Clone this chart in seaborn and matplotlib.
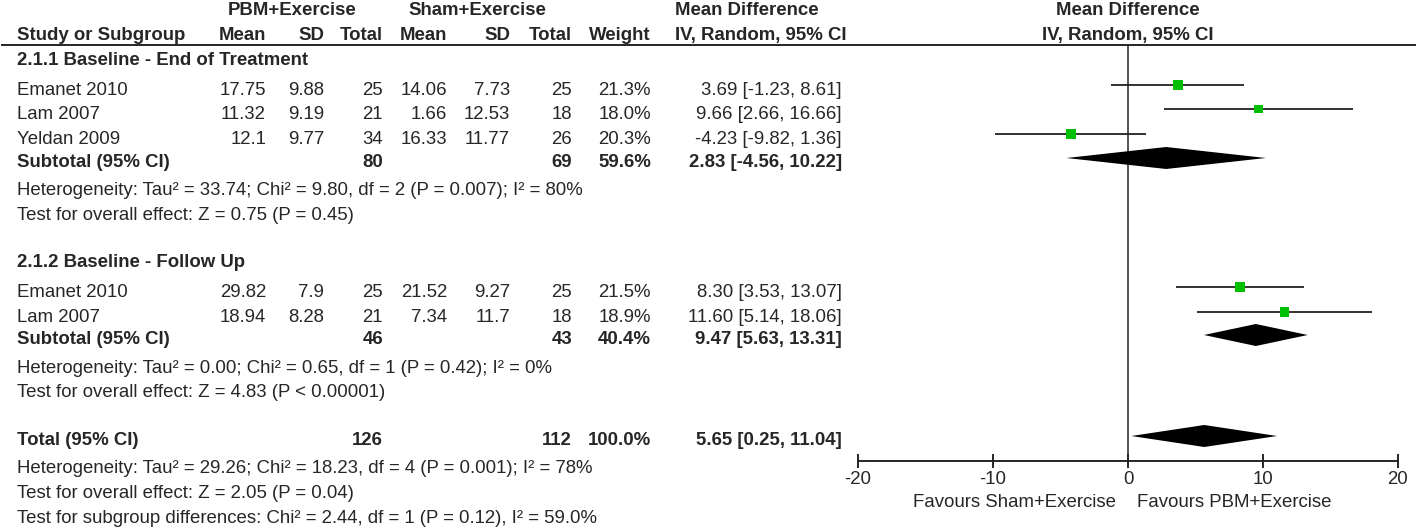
import pandas as pd
import seaborn as sns
import matplotlib
matplotlib.use("Agg")
import matplotlib.pyplot as plt

# ---- values ----
# 2.1.1 Baseline - End of Treatment
study_g1 = ["Emanet 2010", "Lam 2007", "Yeldan 2009"]
pbm_mean_g1 = [17.75, 11.32, 12.1]
pbm_sd_g1 = [9.88, 9.19, 9.77]
pbm_n_g1 = [25, 21, 34]
sham_mean_g1 = [14.06, 1.66, 16.33]
sham_sd_g1 = [7.73, 12.53, 11.77]
sham_n_g1 = [25, 18, 26]
weight_g1 = [21.3, 18.0, 20.3]
md_g1 = [3.69, 9.66, -4.23]
lo_g1 = [-1.23, 2.66, -9.82]
hi_g1 = [8.61, 16.66, 1.36]

# 2.1.2 Baseline - Follow Up
study_g2 = ["Emanet 2010", "Lam 2007"]
pbm_mean_g2 = [29.82, 18.94]
pbm_sd_g2 = [7.9, 8.28]
pbm_n_g2 = [25, 21]
sham_mean_g2 = [21.52, 7.34]
sham_sd_g2 = [9.27, 11.7]
sham_n_g2 = [25, 18]
weight_g2 = [21.5, 18.9]
md_g2 = [8.30, 11.60]
lo_g2 = [3.53, 5.14]
hi_g2 = [13.07, 18.06]

group_titles = ["2.1.1 Baseline - End of Treatment", "2.1.2 Baseline - Follow Up"]
sub_n_pbm = [80, 46]
sub_n_sham = [69, 43]
sub_weight = [59.6, 40.4]
sub_md = [2.83, 9.47]
sub_lo = [-4.56, 5.63]
sub_hi = [10.22, 13.31]
sub_het = ["Heterogeneity: Tau² = 33.74; Chi² = 9.80, df = 2 (P = 0.007); I² = 80%",
           "Heterogeneity: Tau² = 0.00; Chi² = 0.65, df = 1 (P = 0.42); I² = 0%"]
sub_test = ["Test for overall effect: Z = 0.75 (P = 0.45)",
            "Test for overall effect: Z = 4.83 (P < 0.00001)"]

tot_n_pbm, tot_n_sham, tot_weight = 126, 112, 100.0
tot_md, tot_lo, tot_hi = 5.65, 0.25, 11.04
tot_notes = ["Heterogeneity: Tau² = 29.26; Chi² = 18.23, df = 4 (P = 0.001); I² = 78%",
             "Test for overall effect: Z = 2.05 (P = 0.04)",
             "Test for subgroup differences: Chi² = 2.44, df = 1 (P = 0.12), I² = 59.0%"]

x_ticks = [-20, -10, 0, 10, 20]
favours = ["Favours Sham+Exercise", "Favours PBM+Exercise"]

# ---- layout (pixel rows/columns of the table) ----
W, H = 1418, 527
base_g = [[95, 119, 144], [297, 322]]
title_y = [65, 267]
sub_y = [167, 344]
het_y = [[195, 220], [373, 397]]
tot_y = 445
tot_notes_y = [473, 498, 523]
col_x = [266, 324, 383, 447, 510, 572, 651, 842]   # right edges
mark_off = -10
ink = "#262626"
fs = 13.4

sns.set_theme(style="white")
plt.rcParams["font.family"] = ["Liberation Sans", "DejaVu Sans"]
plt.rcParams["axes.unicode_minus"] = False

fig = plt.figure(figsize=(W / 100, H / 100), dpi=100)
tab = fig.add_axes([0, 0, 1, 1])
tab.set_xlim(0, W)
tab.set_ylim(H, 0)
tab.axis("off")


def put(x, y, s, ha="left", bold=False):
    tab.text(x, y, s, ha=ha, va="baseline", fontsize=fs, color=ink,
             fontweight="bold" if bold else "normal")


# header
put(292, 15, "PBM+Exercise", ha="center", bold=True)
put(477, 15, "Sham+Exercise", ha="center", bold=True)
put(675, 15, "Mean Difference", bold=True)
put(1128, 15, "Mean Difference", ha="center", bold=True)
put(17, 40, "Study or Subgroup", bold=True)
for x, s in zip(col_x[:7], ["Mean", "SD", "Total", "Mean", "SD", "Total", "Weight"]):
    put(x, 40, s, ha="right", bold=True)
put(675, 40, "IV, Random, 95% CI", bold=True)
put(1128, 40, "IV, Random, 95% CI", ha="center", bold=True)
tab.plot([1, 1416], [45, 45], color=ink, lw=1.4, solid_capstyle="butt")

groups = [
    (study_g1, pbm_mean_g1, pbm_sd_g1, pbm_n_g1, sham_mean_g1, sham_sd_g1, sham_n_g1,
     weight_g1, md_g1, lo_g1, hi_g1),
    (study_g2, pbm_mean_g2, pbm_sd_g2, pbm_n_g2, sham_mean_g2, sham_sd_g2, sham_n_g2,
     weight_g2, md_g2, lo_g2, hi_g2),
]

records = []
for gi, g in enumerate(groups):
    put(17, title_y[gi], group_titles[gi], bold=True)
    for i, name in enumerate(g[0]):
        y = base_g[gi][i]
        put(17, y, name)
        vals = [f"{g[1][i]:g}", f"{g[2][i]:g}", f"{g[3][i]}",
                f"{g[4][i]:g}", f"{g[5][i]:g}", f"{g[6][i]}",
                f"{g[7][i]:.1f}%", f"{g[8][i]:.2f} [{g[9][i]:.2f}, {g[10][i]:.2f}]"]
        for x, s in zip(col_x, vals):
            put(x, y, s, ha="right")
        records.append({"study": name, "md": g[8][i], "lo": g[9][i], "hi": g[10][i],
                        "weight": g[7][i], "ypos": y + mark_off})
    ys = sub_y[gi]
    put(17, ys, "Subtotal (95% CI)", bold=True)
    put(col_x[2], ys, f"{sub_n_pbm[gi]}", ha="right", bold=True)
    put(col_x[5], ys, f"{sub_n_sham[gi]}", ha="right", bold=True)
    put(col_x[6], ys, f"{sub_weight[gi]:.1f}%", ha="right", bold=True)
    put(col_x[7], ys, f"{sub_md[gi]:.2f} [{sub_lo[gi]:.2f}, {sub_hi[gi]:.2f}]",
        ha="right", bold=True)
    put(17, het_y[gi][0], sub_het[gi])
    put(17, het_y[gi][1], sub_test[gi])

put(17, tot_y, "Total (95% CI)", bold=True)
put(col_x[2], tot_y, f"{tot_n_pbm}", ha="right", bold=True)
put(col_x[5], tot_y, f"{tot_n_sham}", ha="right", bold=True)
put(col_x[6], tot_y, f"{tot_weight:.1f}%", ha="right", bold=True)
put(col_x[7], tot_y, f"{tot_md:.2f} [{tot_lo:.2f}, {tot_hi:.2f}]", ha="right", bold=True)
for y, s in zip(tot_notes_y, tot_notes):
    put(17, y, s)

put(1116, 507, favours[0], ha="right")
put(1137, 507, favours[1])

# ---- forest panel ----
df = pd.DataFrame(records)
ax = fig.add_axes([858 / W, (H - 461) / H, 540 / W, (461 - 45) / H])
ax.patch.set_visible(False)
ax.set_xlim(-20, 20)
ax.set_ylim(461, 45)

ax.axvline(0, color=ink, lw=1.1, zorder=1)
ax.hlines(df["ypos"], df["lo"], df["hi"], color="#222222", lw=1.3, zorder=2)
area = 2.3   # marker area (pt^2) per % weight
sns.scatterplot(data=df, x="md", y="ypos", size="weight",
                sizes=(area * df["weight"].min(), area * df["weight"].max()),
                size_norm=(df["weight"].min(), df["weight"].max()),
                marker="s", color="#00BF00", edgecolor="none", linewidth=0,
                legend=False, zorder=3, ax=ax)

half_h = 11
for est, lo, hi, y in zip(sub_md + [tot_md], sub_lo + [tot_lo], sub_hi + [tot_hi],
                          sub_y + [tot_y]):
    yc = y + mark_off + 1
    ax.fill([lo, est, hi, est], [yc, yc - half_h, yc, yc + half_h],
            color="black", lw=0, zorder=3)

for side in ["top", "left", "right"]:
    ax.spines[side].set_visible(False)
ax.spines["bottom"].set_color(ink)
ax.spines["bottom"].set_linewidth(1.4)
ax.set_xticks(x_ticks)
ax.set_xticklabels([f"{t}" for t in x_ticks])
ax.set_yticks([])
ax.tick_params(axis="x", direction="inout", length=10, width=1.4, color=ink,
               labelsize=fs, labelcolor=ink, pad=2, bottom=True)
ax.set_xlabel("")
ax.set_ylabel("")

fig.savefig("out.png", dpi=100)
